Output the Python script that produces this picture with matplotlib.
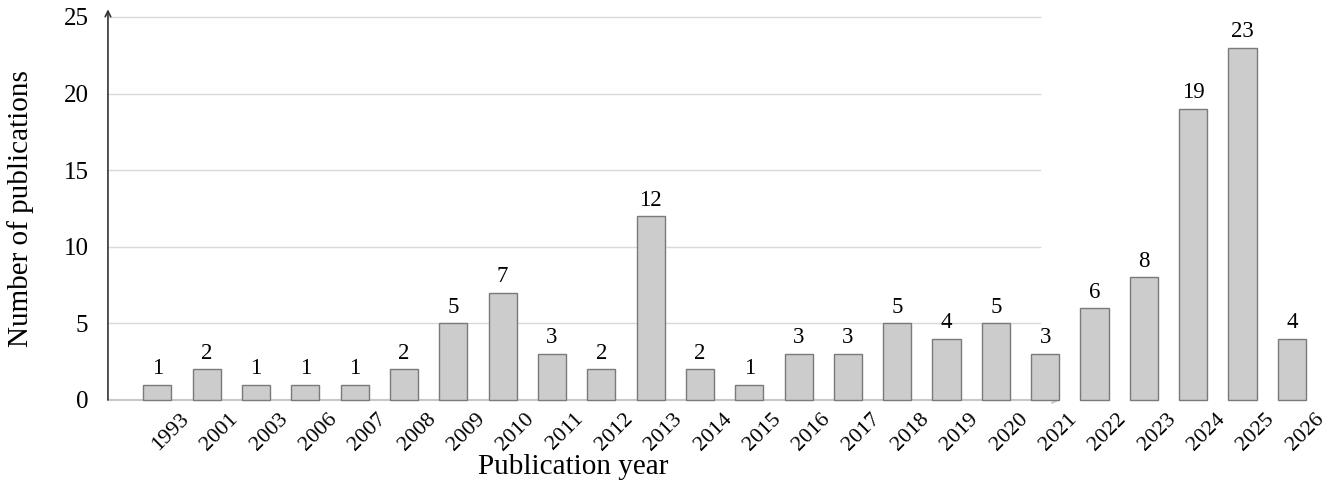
import matplotlib
matplotlib.use("Agg")
import matplotlib.pyplot as plt
import matplotlib.transforms as mtransforms
import numpy as np

# publication counts per year
years = ["1993", "2001", "2003", "2006", "2007", "2008", "2009", "2010", "2011", "2012",
         "2013", "2014", "2015", "2016", "2017", "2018", "2019", "2020", "2021", "2022",
         "2023", "2024", "2025", "2026"]
counts = [1, 2, 1, 1, 1, 2, 5, 7, 3, 2, 12, 2, 1, 3, 3, 5, 4, 5, 3, 6, 8, 19, 23, 4]
y_ticks = [0, 5, 10, 15, 20, 25]

plt.rcParams['font.family'] = ['Liberation Serif', 'DejaVu Serif']

fig = plt.figure(figsize=(13.31, 4.94), dpi=100)
ax = fig.add_axes([0.0811, 0.1903, 0.7153, 0.7753])

x = np.arange(len(years))
ax.set_xlim(-1.0, 18.3)
ax.set_ylim(0, 25)

# gridlines (they stop a bit before the end of the x axis)
for t in y_ticks[1:]:
    ax.plot([-1.0, 17.9], [t, t], color="#d9d9d9", lw=1, zorder=0, clip_on=False)

bars = ax.bar(x, counts, width=0.57, color="#cccccc", edgecolor="#7a7a7a",
              linewidth=1, zorder=2, clip_on=False)

# value labels above the bars
for xi, c in zip(x, counts):
    ax.annotate(str(c), (xi, c), xytext=(0, 4), textcoords="offset points",
                ha="center", va="bottom", fontsize=16.5, annotation_clip=False)

# rotated year labels, shifted right like the original
ax.set_xticks([])
offset = mtransforms.ScaledTranslation(0.29, -0.16, fig.dpi_scale_trans)
for xi, yr in zip(x, years):
    ax.text(xi, 0, yr, transform=ax.transData + offset, rotation=45,
            rotation_mode="anchor", ha="right", va="center", fontsize=16)

ax.set_yticks(y_ticks)
ax.tick_params(axis="y", length=0, labelsize=18, pad=14)

for s in ax.spines.values():
    s.set_visible(False)

# axis lines with arrow heads
ax.annotate("", xy=(0, 1.02), xytext=(0, 0), xycoords="axes fraction",
            arrowprops=dict(arrowstyle="->", color="#333333", lw=1.2,
                            shrinkA=0, shrinkB=0))
ax.annotate("", xy=(1, 0), xytext=(0, 0), xycoords="axes fraction",
            arrowprops=dict(arrowstyle="->", color="#c8c8c8", lw=1.5,
                            shrinkA=0, shrinkB=0), zorder=1)

ax.set_ylabel("Number of publications", fontsize=21)
ax.yaxis.set_label_coords(-0.078, 0.5)
fig.text(0.431, 0.054, "Publication year", ha="center", va="center", fontsize=21)

fig.savefig("out.png", dpi=100)
